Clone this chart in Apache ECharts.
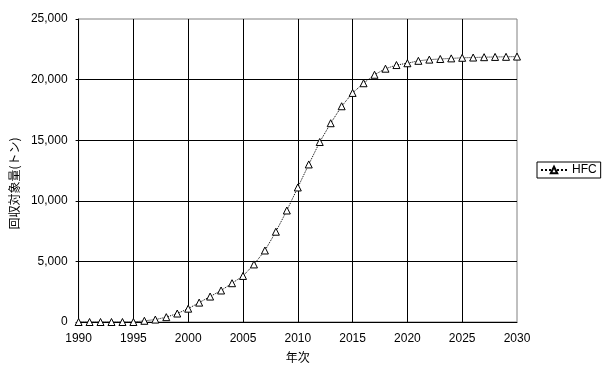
<!DOCTYPE html>
<html>
<head>
<meta charset="utf-8">
<script src="https://cdn.jsdelivr.net/npm/echarts@6/dist/echarts.min.js"></script>
<style>
  html, body { margin: 0; padding: 0; background: #fff; }
  #chart { width: 606px; height: 376px; }
</style>
</head>
<body>
<div id="chart"></div>
<script>
var years = [];
for (var y = 1990; y <= 2030; y++) years.push(y);
var hfc = [0, 0, 0, 0, 0, 0, 100, 200, 400, 700,
           1100, 1600, 2100, 2600, 3200, 3800, 4750, 5900, 7450, 9200,
           11100, 13000, 14850, 16400, 17800, 18900, 19700, 20400, 20900, 21200,
           21350, 21550, 21650, 21700, 21750, 21800, 21820, 21850, 21870, 21880,
           21900];
var yTicks = [0, 5000, 10000, 15000, 20000, 25000];

var myChart = echarts.init(document.getElementById('chart'));
var textFont = {color: '#000', fontSize: 12, fontFamily: 'Liberation Sans'};
var option = {
    animation: false,
    grid: {
        left: 77, right: 89, top: 19, bottom: 54,
        show: true, borderColor: '#808080', borderWidth: 1,
        backgroundColor: '#fff'
    },
    legend: {
        left: 537, top: 162,
        orient: 'vertical',
        data: ['HFC'],
        itemWidth: 26, itemHeight: 8, itemGap: 0,
        padding: [2, 4, 2, 3],
        borderColor: '#000', borderWidth: 1, borderRadius: 0,
        backgroundColor: '#fff',
        textStyle: {color: '#000', fontSize: 12, fontFamily: 'Liberation Sans'}
    },
    xAxis: {
        type: 'value',
        min: 1990, max: 2030, interval: 5,
        name: '年次',
        nameLocation: 'middle',
        nameGap: 29,
        nameTextStyle: {color: '#000', fontSize: 12, fontFamily: 'Noto Sans CJK JP'},
        axisLine: {show: true, lineStyle: {color: '#000', width: 1}},
        axisTick: {show: false},
        axisLabel: Object.assign({margin: 11, formatter: function (v) { return String(v); }}, textFont),
        splitLine: {show: true, showMinLine: false, showMaxLine: false, lineStyle: {color: '#000', width: 1}}
    },
    yAxis: {
        type: 'value',
        min: 0, max: yTicks[yTicks.length - 1], interval: 5000,
        name: '回収対象量(トン)',
        nameLocation: 'middle',
        nameGap: 55,
        nameTextStyle: {color: '#000', fontSize: 12, fontFamily: 'Noto Sans CJK JP', padding: [0, 26, 0, 0]},
        axisLine: {show: true, lineStyle: {color: '#000', width: 1}},
        axisTick: {show: true, length: 3, lineStyle: {color: '#000'}},
        axisLabel: Object.assign({margin: 11, formatter: function (v) {
            return v.toString().replace(/\B(?=(\d{3})+(?!\d))/g, ',');
        }}, textFont),
        splitLine: {show: true, showMinLine: false, showMaxLine: false, lineStyle: {color: '#000', width: 1}}
    },
    series: [{
        name: 'HFC',
        type: 'line',
        data: years.map(function (yr, i) { return [yr, hfc[i]]; }),
        symbol: 'triangle',
        symbolSize: 7,
        showAllSymbol: true,
        lineStyle: {color: '#000', width: 1, type: 'dotted'},
        itemStyle: {color: '#fff', borderColor: '#000', borderWidth: 1}
    }]
};
myChart.setOption(option);
</script>
</body>
</html>
